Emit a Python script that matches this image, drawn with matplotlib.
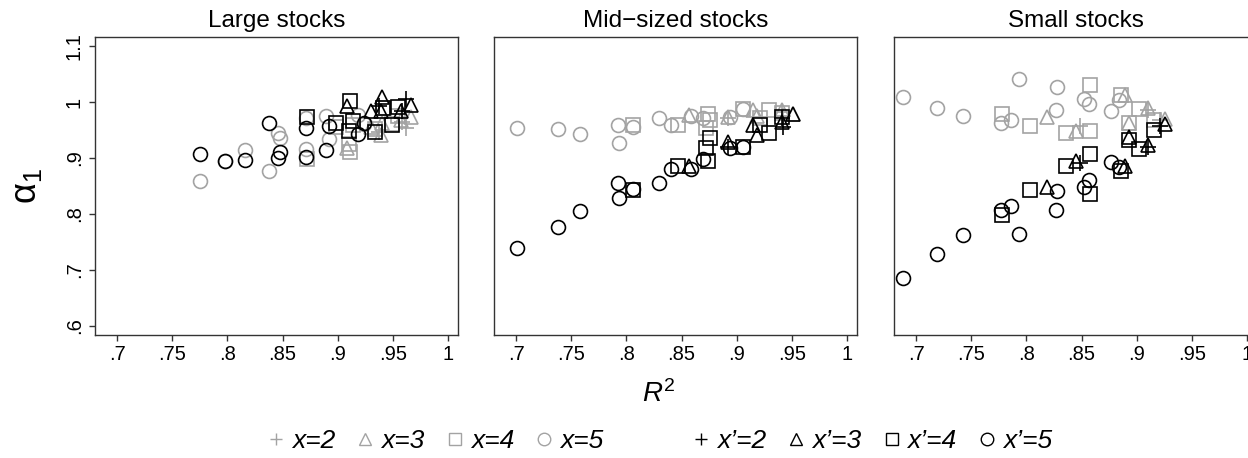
import matplotlib
matplotlib.use("Agg")
import matplotlib.pyplot as plt
from matplotlib.lines import Line2D

plt.rcParams["font.family"] = ["Liberation Sans", "DejaVu Sans"]
plt.rcParams["mathtext.fontset"] = "custom"
plt.rcParams["mathtext.rm"] = "Liberation Sans"
plt.rcParams["mathtext.it"] = "Liberation Sans:italic"

# panel titles
titles = ["Large stocks", "Mid\u2212sized stocks", "Small stocks"]

# ticks
xticks = [0.7, 0.75, 0.8, 0.85, 0.9, 0.95, 1.0]
xticklabels = [".7", ".75", ".8", ".85", ".9", ".95", "1"]
yticks = [0.6, 0.7, 0.8, 0.9, 1.0, 1.1]
yticklabels = [".6", ".7", ".8", ".9", "1", "1.1"]

# Large stocks: R2 per group, alpha for x (grey) and x' (black)
large_r2_2 = [0.937, 0.962, 0.958]
large_x_2 = [0.947, 0.953, 0.965]
large_xp_2 = [0.992, 1.005, 0.983]
large_r2_3 = [0.908, 0.930, 0.939, 0.940, 0.957, 0.966]
large_x_3 = [0.917, 0.955, 0.941, 0.962, 0.968, 0.974]
large_xp_3 = [0.992, 0.983, 0.983, 1.009, 0.983, 0.995]
large_r2_4 = [0.872, 0.898, 0.910, 0.911, 0.914, 0.934, 0.941, 0.949, 0.955]
large_x_4 = [0.899, 0.955, 0.925, 0.911, 0.958, 0.952, 0.989, 0.960, 0.975]
large_xp_4 = [0.974, 0.962, 0.949, 1.001, 0.966, 0.947, 0.989, 0.959, 0.991]
large_r2_5 = [0.775, 0.798, 0.816, 0.838, 0.846, 0.848, 0.871, 0.871, 0.889, 0.892, 0.918, 0.924]
large_x_5 = [0.859, 0.894, 0.914, 0.876, 0.945, 0.935, 0.971, 0.916, 0.975, 0.934, 0.977, 0.960]
large_xp_5 = [0.907, 0.895, 0.896, 0.962, 0.900, 0.911, 0.954, 0.901, 0.914, 0.957, 0.943, 0.962]

# Mid-sized stocks
mid_r2_2 = [0.892, 0.941, 0.942]
mid_x_2 = [0.972, 0.982, 0.975]
mid_xp_2 = [0.920, 0.971, 0.956]
mid_r2_3 = [0.857, 0.892, 0.915, 0.918, 0.941, 0.951]
mid_x_3 = [0.977, 0.974, 0.986, 0.975, 0.986, 0.978]
mid_xp_3 = [0.885, 0.929, 0.959, 0.941, 0.965, 0.978]
mid_r2_4 = [0.806, 0.847, 0.872, 0.874, 0.876, 0.906, 0.921, 0.929, 0.941]
mid_x_4 = [0.959, 0.959, 0.953, 0.978, 0.968, 0.988, 0.972, 0.986, 0.980]
mid_xp_4 = [0.842, 0.885, 0.918, 0.895, 0.935, 0.920, 0.958, 0.944, 0.974]
mid_r2_5 = [0.701, 0.738, 0.758, 0.792, 0.793, 0.806, 0.830, 0.840, 0.859, 0.869, 0.894, 0.906]
mid_x_5 = [0.953, 0.951, 0.942, 0.959, 0.926, 0.956, 0.972, 0.959, 0.975, 0.971, 0.974, 0.987]
mid_xp_5 = [0.739, 0.777, 0.806, 0.856, 0.828, 0.844, 0.856, 0.880, 0.881, 0.898, 0.917, 0.919]

# Small stocks
small_r2_2 = [0.849, 0.910, 0.921]
small_x_2 = [0.957, 0.986, 0.968]
small_xp_2 = [0.891, 0.920, 0.957]
small_r2_3 = [0.819, 0.845, 0.889, 0.893, 0.910, 0.926]
small_x_3 = [0.973, 0.948, 1.013, 0.963, 0.989, 0.970]
small_xp_3 = [0.849, 0.895, 0.885, 0.938, 0.924, 0.960]
small_r2_4 = [0.778, 0.803, 0.836, 0.858, 0.858, 0.886, 0.893, 0.902, 0.916]
small_x_4 = [0.979, 0.957, 0.945, 1.030, 0.948, 1.013, 0.962, 0.987, 0.968]
small_xp_4 = [0.798, 0.842, 0.886, 0.907, 0.835, 0.876, 0.932, 0.916, 0.950]
small_r2_5 = [0.688, 0.719, 0.743, 0.777, 0.786, 0.793, 0.827, 0.828, 0.852, 0.857, 0.877, 0.884]
small_x_5 = [1.008, 0.990, 0.975, 0.963, 0.968, 1.041, 0.986, 1.027, 1.005, 0.996, 0.984, 1.004]
small_xp_5 = [0.685, 0.728, 0.763, 0.807, 0.815, 0.764, 0.807, 0.841, 0.849, 0.860, 0.892, 0.883]

panels = [
    [(large_r2_2, large_x_2, large_xp_2), (large_r2_3, large_x_3, large_xp_3),
     (large_r2_4, large_x_4, large_xp_4), (large_r2_5, large_x_5, large_xp_5)],
    [(mid_r2_2, mid_x_2, mid_xp_2), (mid_r2_3, mid_x_3, mid_xp_3),
     (mid_r2_4, mid_x_4, mid_xp_4), (mid_r2_5, mid_x_5, mid_xp_5)],
    [(small_r2_2, small_x_2, small_xp_2), (small_r2_3, small_x_3, small_xp_3),
     (small_r2_4, small_x_4, small_xp_4), (small_r2_5, small_x_5, small_xp_5)],
]

GREY = "#a3a3a3"
SPINE = "#333333"
markers = ["+", "^", "s", "o"]
msizes = [12, 10, 9.5, 10]

fig = plt.figure(figsize=(12.48, 4.58), dpi=100)
lefts = [0.0761, 0.3958, 0.7163]

for i, (title, groups) in enumerate(zip(titles, panels)):
    ax = fig.add_axes([lefts[i], 0.2686, 0.2909, 0.6507])
    # grey (x) first, black (x') on top
    for (r2, a_x, a_xp), m, ms in zip(groups, markers, msizes):
        ax.plot(r2, a_x, linestyle="none", marker=m, markersize=ms,
                markerfacecolor="none", markeredgecolor=GREY, markeredgewidth=1.2)
    for (r2, a_x, a_xp), m, ms in zip(groups, markers, msizes):
        ax.plot(r2, a_xp, linestyle="none", marker=m, markersize=ms,
                markerfacecolor="none", markeredgecolor="black", markeredgewidth=1.2)

    ax.set_xlim(0.68, 1.009)
    ax.set_ylim(0.584, 1.116)
    ax.set_xticks(xticks)
    ax.set_xticklabels(xticklabels)
    ax.tick_params(axis="x", direction="out", length=4, width=1, color=SPINE,
                   labelsize=14.5, pad=3)
    if i == 0:
        ax.set_yticks(yticks)
        ax.set_yticklabels(yticklabels, rotation=90, va="center")
        ax.tick_params(axis="y", direction="out", length=4, width=1, color=SPINE,
                       labelsize=14.5, pad=4)
    else:
        ax.set_yticks([])
    for sp in ax.spines.values():
        sp.set_color(SPINE)
        sp.set_linewidth(1.0)
    ax.set_title(title, fontsize=17.5, pad=7)

fig.text(27 / 1248, 1 - 186 / 458, "$\\mathrm{\u03b1}_{\\mathit{1}}$", rotation=90,
         ha="center", va="center", fontsize=26)
fig.text(659 / 1248, 1 - 402 / 458, "$R^2$", ha="center", va="baseline", fontsize=20)

legend_labels = ["2", "3", "4", "5"]
grey_handles = [Line2D([], [], linestyle="none", marker=m, markersize=9,
                       markerfacecolor="none", markeredgecolor=GREY, markeredgewidth=1)
                for m in markers]
black_handles = [Line2D([], [], linestyle="none", marker=m, markersize=9,
                        markerfacecolor="none", markeredgecolor="black", markeredgewidth=1)
                 for m in markers]
legend_kw = dict(loc="center", ncol=4, frameon=False,
                 prop=dict(style="italic", size=19), handlelength=0.8,
                 handletextpad=0.2, columnspacing=0.75)
fig.legend(grey_handles, ["x=" + s for s in legend_labels],
           bbox_to_anchor=(0.348, 0.037), **legend_kw)
fig.legend(black_handles, ["x\u2019=" + s for s in legend_labels],
           bbox_to_anchor=(0.698, 0.037), **legend_kw)

fig.savefig("out.png", dpi=100)
